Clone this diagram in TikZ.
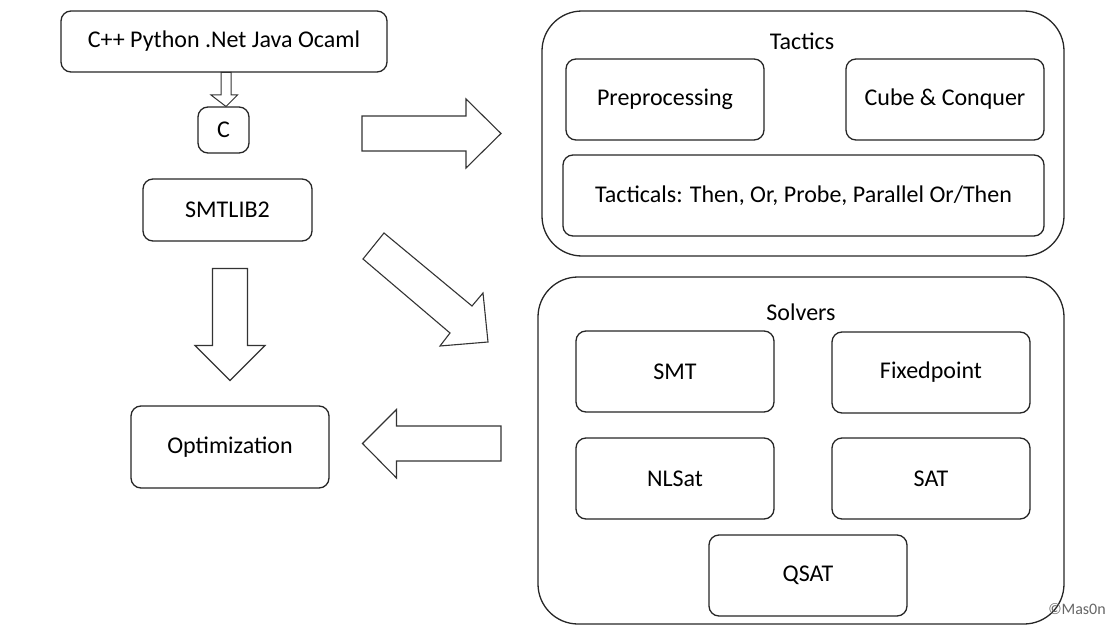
\documentclass[tikz,border=0pt]{standalone}
\usepackage{fontspec}
\setmainfont{Carlito}
\begin{document}
\begin{tikzpicture}[x=1pt,y=-1pt,
  box/.style={draw=black!85,line width=1.3pt,rounded corners=10pt,fill=white},
  cont/.style={draw=black!85,line width=1.3pt,rounded corners=40pt},
  bigarrow/.style={draw=black!80,line width=1.1pt,line join=miter},
  lbl/.style={font=\fontsize{24}{28}\selectfont}]
\useasboundingbox (0,0) rectangle (1112,626);
% containers
\draw[cont] (542,11) rectangle (1064,256);
\node[lbl] (tactics) at (802,41) {Tactics};
\draw[cont] (538,277) rectangle (1064,624);
\node[lbl] (solvers) at (801,312) {Solvers};
% left column boxes
\newcommand{\rbox}[6]{\draw[box] (#2,#3) rectangle (#4,#5); \node[lbl] (#1) at ({(#2+#4)/2},{(#3+#5)/2}) {#6};}
\rbox{lang}{61}{11}{387}{72}{C++ Python .Net Java Ocaml}
\rbox{cbox}{198}{107}{249}{153}{C}
\rbox{smt2}{143}{179}{312}{241}{SMTLIB2}
\rbox{opt}{131}{406}{329}{488}{Optimization}
% tactics
\rbox{pre}{566}{59}{764}{140}{Preprocessing}
\rbox{cube}{846}{59}{1044}{140}{Cube \& Conquer}
\rbox{tacl}{563}{155}{1044}{236}{Tacticals: Then, Or, Probe, Parallel Or/Then}
% solvers
\rbox{smt}{576}{331}{774}{412}{SMT}
\rbox{fix}{832}{332}{1030}{413}{Fixedpoint}
\rbox{nls}{576}{438}{774}{519}{NLSat}
\rbox{sat}{832}{438}{1030}{519}{SAT}
\rbox{qsat}{709}{535}{907}{616}{QSAT}
% small arrow lang -> C
\draw[bigarrow,line width=1pt] (221,72.5) -- (231,72.5) -- (231,95) -- (237.5,95) -- (226,106.5) -- (211,95) -- (221,95) -- cycle;
% right arrow
\draw[bigarrow] (362,116) -- (466,116) -- (466,99) -- (501,133.5) -- (466,168) -- (466,151) -- (362,151) -- cycle;
% diagonal arrow
\draw[bigarrow] (384,233) -- (472,306) -- (483,293) -- (488,342) -- (440,346) -- (450,333) -- (363,259) -- cycle;
% down arrow
\draw[bigarrow] (212.5,268.5) -- (247.5,268.5) -- (247.5,345.5) -- (265,345.5) -- (230,380.5) -- (195,345.5) -- (212.5,345.5) -- cycle;
% left arrow
\draw[bigarrow] (501,426) -- (396.5,426) -- (396.5,409.5) -- (362.5,443.5) -- (396.5,478) -- (396.5,461) -- (501,461) -- cycle;
% watermark
\node[font=\fontsize{16}{18}\selectfont,text=black!60] (wm) at (1077,609) {©Mas0n};
\end{tikzpicture}
\end{document}
